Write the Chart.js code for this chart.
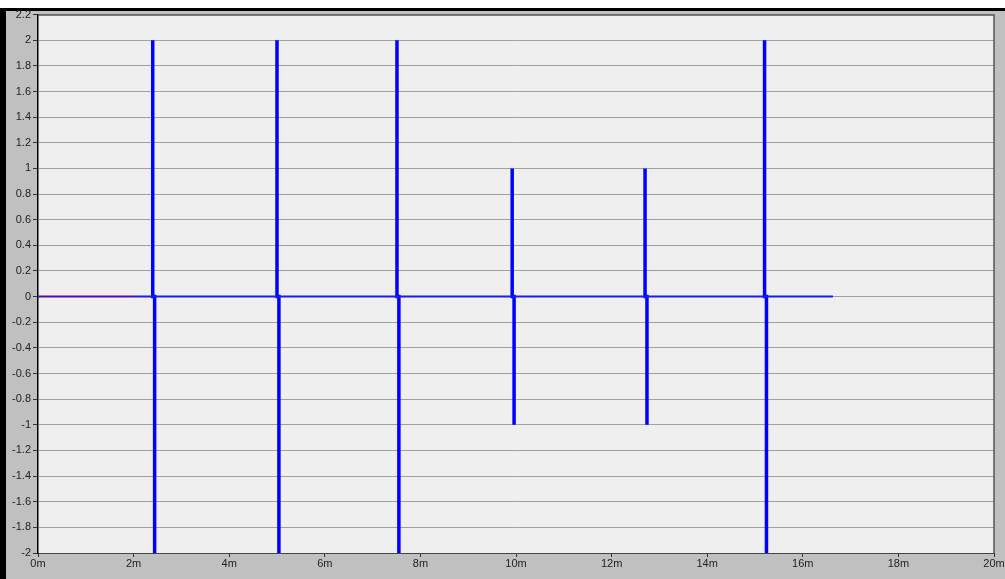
<!DOCTYPE html>
<html>
<head>
<meta charset="utf-8">
<script src="https://cdn.jsdelivr.net/npm/chart.js@4"></script>
<style>
	html, body { margin: 0; padding: 0; background: #fff; overflow: hidden; }
	#frame {
		position: absolute; left: 0; top: 8px;
		width: 999px; height: 568px;
		border-left: 6px solid #000; border-top: 3px solid #000;
		background: #c0c0c0;
	}
	canvas { display: block; position: relative; top: -5px; }
</style>
</head>
<body>
<div id="frame"><canvas id="myChart" width="999" height="573"></canvas></div>
<script>
// times in minutes where the pulses happen and their heights
var pulseTimes = [2.40, 5.00, 7.51, 9.92, 12.70, 15.20];
var pulseHeights = [2, 2, 2, 1, 1, 2];
var pulseGap = 0.04;
// baseline segments
var purpleStart = 0, purpleEnd = 2.03;
var blueEnd = 16.63;
// axes
var xMin = 0, xMax = 20, xStep = 2;
var yMin = -2, yMax = 2.2, yStep = 0.2;

// each pulse: straight up, back to 0, then straight down a bit later
var pulsePoints = [];
for (var i = 0; i < pulseTimes.length; i++) {
	var t = pulseTimes[i], h = pulseHeights[i];
	pulsePoints.push({x: t, y: 0});
	pulsePoints.push({x: t, y: h});
	pulsePoints.push({x: t, y: 0});
	pulsePoints.push({x: t + pulseGap, y: 0});
	pulsePoints.push({x: t + pulseGap, y: -h});
	pulsePoints.push({x: t + pulseGap, y: 0});
	pulsePoints.push({x: t + pulseGap, y: null});
}

// plot area background and border
var plotBox = {
	id: 'plotBox',
	beforeDraw: function(chart) {
		var a = chart.chartArea, ctx = chart.ctx;
		ctx.save();
		ctx.fillStyle = '#efefef';
		ctx.fillRect(a.left, a.top, a.right - a.left, a.bottom - a.top);
		ctx.restore();
	},
	afterDatasetsDraw: function(chart) {
		var a = chart.chartArea, ctx = chart.ctx;
		ctx.save();
		ctx.strokeStyle = '#555';
		ctx.lineWidth = 1.5;
		ctx.beginPath();
		ctx.moveTo(a.left, a.top + 0.5);
		ctx.lineTo(a.right, a.top + 0.5);
		ctx.lineTo(a.right, a.bottom);
		ctx.stroke();
		ctx.restore();
	}
};

var tickFont = {family: 'Liberation Sans', size: 11};

var ctx = document.getElementById('myChart').getContext('2d');
var myChart = new Chart(ctx, {
	type: 'line',
	data: {
		datasets: [{
			data: [{x: purpleStart, y: 0}, {x: purpleEnd, y: 0}],
			borderColor: '#4a10a8',
			borderWidth: 2,
			pointRadius: 0
		}, {
			data: [{x: purpleEnd, y: 0}, {x: blueEnd, y: 0}],
			borderColor: '#1a1aff',
			borderWidth: 2,
			pointRadius: 0
		}, {
			data: pulsePoints,
			borderColor: '#0000ff',
			borderWidth: 3.5,
			pointRadius: 0,
			spanGaps: false
		}]
	},
	options: {
		responsive: false,
		animation: false,
		layout: {padding: {top: 0, right: 11, left: 0, bottom: 0}},
		plugins: {legend: {display: false}, tooltip: {enabled: false}},
		scales: {
			x: {
				type: 'linear', min: xMin, max: xMax,
				afterFit: function(s) { s.height = 26; },
				ticks: {
					stepSize: xStep, color: '#222', font: tickFont, padding: 0,
					maxRotation: 0,
					callback: function(v) { return v + 'm'; }
				},
				grid: {drawOnChartArea: false, tickLength: 4, color: '#333'},
				border: {color: '#444', width: 1}
			},
			y: {
				min: yMin, max: yMax,
				afterFit: function(s) { s.width = 32; },
				ticks: {
					stepSize: yStep, color: '#222', font: tickFont, padding: 2,
					callback: function(v) { return String(Number(v.toFixed(1))); }
				},
				grid: {color: '#a0a0a0', tickColor: '#333', tickLength: 5, lineWidth: 1},
				border: {color: '#000', width: 1.5}
			}
		}
	},
	plugins: [plotBox]
});
</script>
</body>
</html>
